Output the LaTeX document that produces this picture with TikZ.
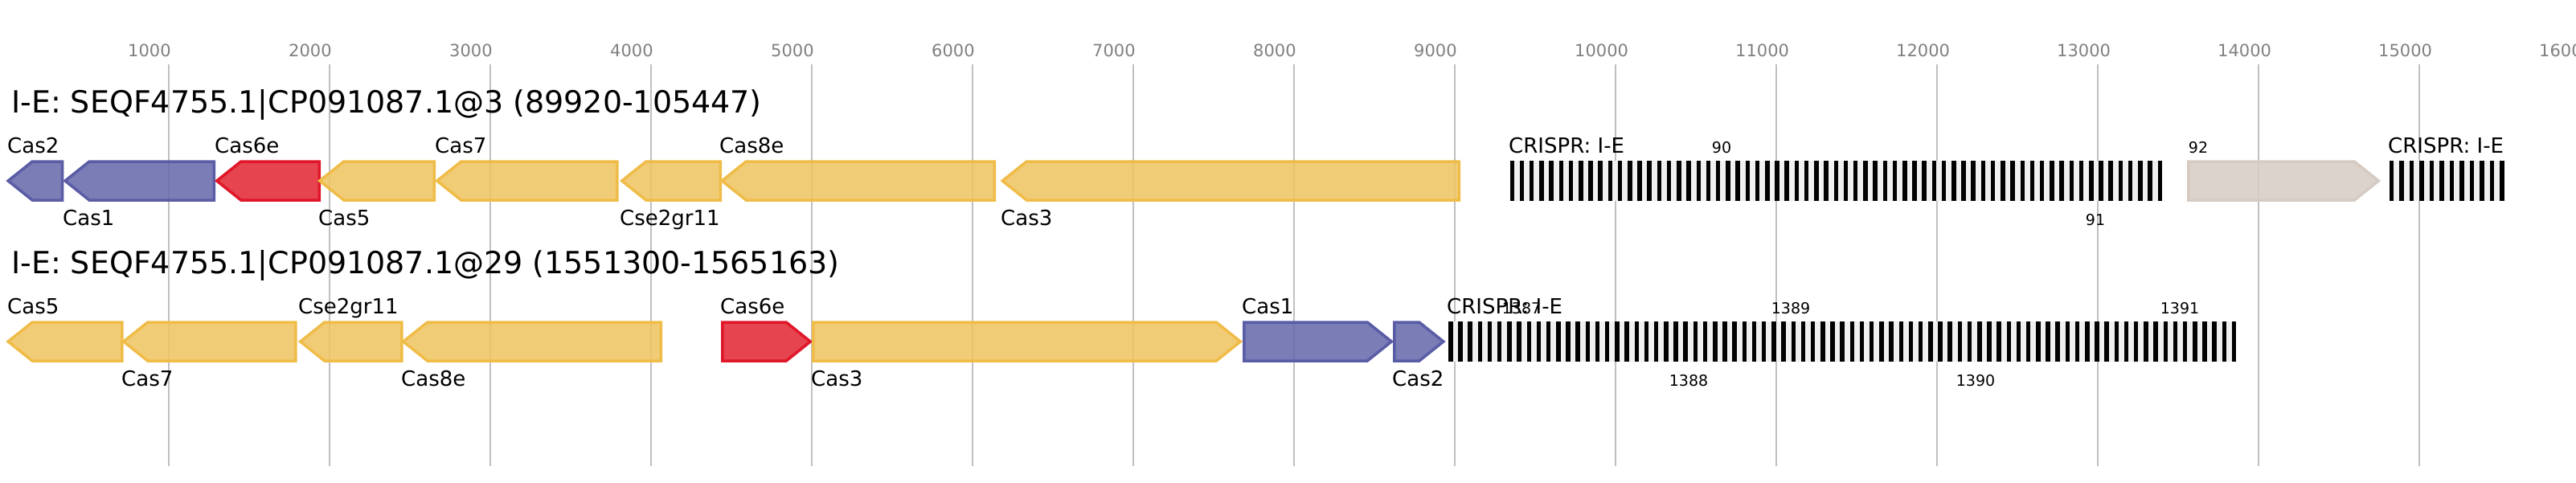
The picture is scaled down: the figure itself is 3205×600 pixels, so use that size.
\documentclass[tikz,border=0pt]{standalone}
\usepackage{fontspec}
\setmainfont{DejaVu Sans}
\definecolor{gridc}{RGB}{192,192,192}
\definecolor{tickc}{RGB}{128,128,128}
\definecolor{arrbg}{RGB}{240,240,240}
\definecolor{bluef}{RGB}{101,103,170}
\definecolor{blued}{RGB}{90,92,166}
\definecolor{redf}{RGB}{226,36,48}
\definecolor{redd}{RGB}{224,23,42}
\definecolor{yelf}{RGB}{239,196,95}
\definecolor{yeld}{RGB}{240,188,72}
\definecolor{greyf}{RGB}{214,204,197}
\definecolor{greyd}{RGB}{214,203,194}
\tikzset{
  gl/.style={draw=gridc, line width=1.5pt},
  gene/.style={line width=3.5pt, line join=miter},
  bluegene/.style={gene, draw=blued, fill=bluef, fill opacity=0.85},
  redgene/.style={gene, draw=redd, fill=redf, fill opacity=0.85},
  yelgene/.style={gene, draw=yeld, fill=yelf, fill opacity=0.85},
  greygene/.style={gene, draw=greyd, fill=greyf, fill opacity=0.85},
  lab/.style={anchor=base west, inner sep=0pt, font=\fontsize{26}{28}\selectfont},
  smalllab/.style={anchor=base, inner sep=0pt, font=\fontsize{19}{21}\selectfont},
  ticklab/.style={anchor=base west, inner sep=0pt, text=tickc, font=\fontsize{21}{23}\selectfont},
  titlelab/.style={anchor=base west, inner sep=0pt, font=\fontsize{38}{40}\selectfont},
}
% left-pointing gene: tip x, right x, centre y, style
\newcommand\mygeneL[4]{%
  \draw[#4] ({#1+1.75},#3) -- ({#1+31.75},{#3-24}) -- ({#2-1.75},{#3-24})
    -- ({#2-1.75},{#3+24}) -- ({#1+31.75},{#3+24}) -- cycle;}
% right-pointing gene: left x, tip x, centre y, style
\newcommand\mygeneR[4]{%
  \draw[#4] ({#1+1.75},{#3-24}) -- ({#2-31.75},{#3-24}) -- ({#2-1.75},#3)
    -- ({#2-31.75},{#3+24}) -- ({#1+1.75},{#3+24}) -- cycle;}
% CRISPR array: start x, end x, number of repeats, top y
\newcommand\myarray[4]{%
  \fill[arrbg] (#1,#4) rectangle (#2,{#4+50});
  \pgfmathsetmacro\mypitch{(#2-#1-5.5)/(#3-1)}
  \pgfmathtruncatemacro\mylast{#3-1}
  \foreach \i in {0,...,\mylast} {\fill[black] ({#1+\i*\mypitch},#4) rectangle ++(5.5,50);}
}
\begin{document}
\begin{tikzpicture}[x=1pt,y=-1pt]
\useasboundingbox[fill=white] (0,0) rectangle (3205,600);
% grid and scale
\foreach \k in {1,...,16} {
  \draw[gl] ({10+200*\k},80) -- ({10+200*\k},580);
  \node[ticklab] (tick\k) at ({10+200*\k-51},70) {\k000};
}
% titles
\node[titlelab] (title1) at (14,140) {I-E: SEQF4755.1|CP091087.1@3 (89920-105447)};
\node[titlelab] (title2) at (14,340) {I-E: SEQF4755.1|CP091087.1@29 (1551300-1565163)};
% ---------- row 1 ----------
\mygeneL{8.4}{79.3}{225}{bluegene}
\mygeneL{79.3}{268}{225}{bluegene}
\mygeneL{268}{399}{225}{redgene}
\mygeneL{396}{542}{225}{yelgene}
\mygeneL{542}{769.5}{225}{yelgene}
\mygeneL{772}{898}{225}{yelgene}
\mygeneL{896.5}{1239}{225}{yelgene}
\mygeneL{1245.5}{1817}{225}{yelgene}
\mygeneR{2721}{2961}{225}{greygene}
\myarray{1878.5}{2690}{67}{200}
\myarray{2972.7}{3115.7}{12}{200}
\node[lab] (r1cas2) at (9,190) {Cas2};
\node[lab] (r1cas1) at (78,280) {Cas1};
\node[lab] (r1cas6e) at (267,190) {Cas6e};
\node[lab] (r1cas5) at (396,280) {Cas5};
\node[lab] (r1cas7) at (541,190) {Cas7};
\node[lab] (r1cse) at (771,280) {Cse2gr11};
\node[lab] (r1cas8e) at (895,190) {Cas8e};
\node[lab] (r1cas3) at (1245,280) {Cas3};
\node[lab] (r1crA) at (1877,190) {CRISPR: I-E};
\node[lab] (r1crB) at (2971,190) {CRISPR: I-E};
\node[smalllab] (n90) at (2142,190) {90};
\node[smalllab] (n91) at (2607,280) {91};
\node[smalllab] (n92) at (2735,190) {92};
% ---------- row 2 ----------
\mygeneL{8.4}{153.6}{425}{yelgene}
\mygeneL{152}{369.7}{425}{yelgene}
\mygeneL{372}{501.6}{425}{yelgene}
\mygeneL{500}{824}{425}{yelgene}
\mygeneR{897}{1010}{425}{redgene}
\mygeneR{1010}{1545}{425}{yelgene}
\mygeneR{1546}{1733}{425}{bluegene}
\mygeneR{1733}{1797.6}{425}{bluegene}
\myarray{1802}{2782.3}{81}{400}
\node[lab] (r2cas5) at (9,390) {Cas5};
\node[lab] (r2cas7) at (151,480) {Cas7};
\node[lab] (r2cse) at (371,390) {Cse2gr11};
\node[lab] (r2cas8e) at (499,480) {Cas8e};
\node[lab] (r2cas6e) at (896,390) {Cas6e};
\node[lab] (r2cas3) at (1009,480) {Cas3};
\node[lab] (r2cas1) at (1545,390) {Cas1};
\node[lab] (r2cas2) at (1732,480) {Cas2};
\node[lab] (r2cr) at (1800,390) {CRISPR: I-E};
\node[smalllab] (n1387) at (1893,390) {1387};
\node[smalllab] (n1388) at (2101,480) {1388};
\node[smalllab] (n1389) at (2228,390) {1389};
\node[smalllab] (n1390) at (2458,480) {1390};
\node[smalllab] (n1391) at (2712,390) {1391};
\end{tikzpicture}
\end{document}
